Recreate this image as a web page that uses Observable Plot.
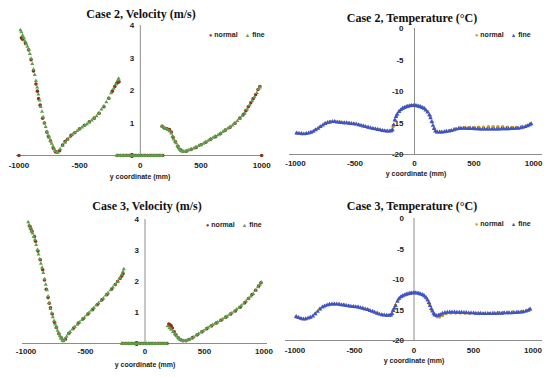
<!DOCTYPE html>
<html>
<head>
<meta charset="utf-8">
<script src="https://cdn.jsdelivr.net/npm/d3@7"></script>
<script src="https://cdn.jsdelivr.net/npm/@observablehq/plot@0.6"></script>
<style>
  html, body { margin: 0; padding: 0; background: #fff; }
  #root { position: relative; width: 550px; height: 377px; overflow: hidden; background: #fff; }
  .title { position: absolute; transform: translate(-50%, -50%); white-space: nowrap;
           font-family: "Liberation Serif", "Times New Roman", serif; font-weight: bold; font-size: 12px; color: #111; }
  .legend { position: absolute; white-space: nowrap; font-family: "Liberation Sans", Arial, sans-serif;
            font-weight: bold; font-size: 7px; color: #222; line-height: 8px; }
  .legend .sym { font-size: 5.5px; margin-right: 2px; }
  .legend .gap { display: inline-block; width: 7px; }
</style>
</head>
<body>
<div id="root"></div>
<script>
// ---------- data ----------
const xTicks = [-1000, -500, 0, 500, 1000];
const velTicks = [0, 1, 2, 3, 4];
const tempTicks = [0, -5, -10, -15, -20];
const titles = ["Case 2, Velocity (m/s)", "Case 2, Temperature (°C)", "Case 3, Velocity (m/s)", "Case 3, Temperature (°C)"];
const seriesNames = ["normal", "fine"];
const xLabel = "y coordinate (mm)";

const c2VelNormal = [
  [-1000,0],[-979,3.62],[-970,3.58],[-945,3.45],[-920,3.25],[-900,2.95],[-880,2.6],[-860,2.2],[-848,1.98],[-838,1.75],[-825,1.55],[-805,1.15],[-790,1.0],[-770,0.72],[-755,0.58],[-740,0.45],[-715,0.22],[-700,0.12],[-685,0.1],[-665,0.15],[-640,0.32],[-620,0.43],[-600,0.5],[-570,0.62],[-540,0.7],[-500,0.82],[-460,0.93],[-420,1.04],[-380,1.15],[-340,1.3],[-300,1.5],[-260,1.76],[-230,1.98],[-210,2.12],[-195,2.22],[-185,2.25],[-175,2.27],
  [-190,0],[-165,0],[-140,0],[-115,0],[-90,0],[-65,0],[-40,0],[-15,0],[10,0],[35,0],[60,0],[85,0],[110,0],[135,0],[160,0],[185,0],
  [180,0.9],[200,0.84],[220,0.82],[240,0.8],[255,0.72],[270,0.56],[290,0.42],[310,0.28],[330,0.18],[350,0.13],[380,0.13],[420,0.19],[460,0.25],[500,0.33],[540,0.41],[580,0.5],[620,0.58],[660,0.67],[700,0.78],[740,0.87],[780,0.99],[820,1.15],[850,1.27],[870,1.38],[890,1.5],[910,1.62],[930,1.75],[950,1.87],[970,2.03],[985,2.12],[1000,0]
];
const c2VelFine = [
  [-988,3.86],[-980,3.8],[-970,3.7],[-960,3.62],[-950,3.52],[-940,3.43],[-930,3.35],[-920,3.26],[-910,3.13],[-900,2.98],[-890,2.82],[-880,2.65],[-870,2.48],[-860,2.3],[-850,2.1],[-840,1.88],[-830,1.7],[-820,1.5],[-810,1.35],[-800,1.18],[-790,1.0],[-780,0.88],[-770,0.72],[-760,0.62],[-750,0.55],[-740,0.45],[-730,0.37],[-720,0.28],[-710,0.2],[-700,0.14],[-690,0.08],
  [-680,0.1],[-660,0.2],[-640,0.3],[-620,0.4],[-600,0.49],[-580,0.57],[-560,0.64],[-540,0.7],[-520,0.76],[-500,0.81],[-480,0.87],[-460,0.92],[-440,0.97],[-420,1.02],[-400,1.08],[-380,1.14],[-360,1.21],[-340,1.3],[-320,1.42],[-300,1.52],[-280,1.64],[-260,1.77],[-240,1.92],[-220,2.06],[-200,2.2],[-185,2.32],[-178,2.37],
  [-195,0],[-180,0],[-165,0],[-150,0],[-135,0],[-120,0],[-105,0],[-90,0],[-75,0],[-60,0],[-45,0],[-30,0],[-15,0],[0,0],[15,0],[30,0],[45,0],[60,0],[75,0],[90,0],[105,0],[120,0],[135,0],[150,0],[165,0],[180,0],
  [180,0.9],[195,0.86],[210,0.82],[225,0.79],[240,0.75],[255,0.68],[265,0.6],[275,0.5],[285,0.43],[295,0.38],[305,0.3],[315,0.23],[325,0.18],[335,0.15],[345,0.13],[355,0.12],[370,0.13],[385,0.15],[400,0.17],[420,0.19],[440,0.22],[460,0.26],[480,0.3],[500,0.33],[520,0.37],[540,0.42],[560,0.46],[580,0.51],[600,0.55],[620,0.59],[640,0.63],[660,0.68],[680,0.73],[700,0.78],[720,0.83],[740,0.88],[760,0.93],[780,1.0],[800,1.07],[820,1.14],[840,1.22],[860,1.3],[880,1.42],[900,1.55],[920,1.68],[940,1.8],[960,1.93],[975,2.05],[985,2.1]
];

const c3VelNormal = [
  [-968,3.78],[-960,3.7],[-950,3.62],[-930,3.45],[-920,3.3],[-900,2.98],[-880,2.7],[-860,2.38],[-845,2.05],[-830,1.75],[-815,1.48],[-805,1.3],[-795,1.15],[-780,0.95],[-760,0.68],[-745,0.52],[-725,0.32],[-705,0.18],[-690,0.1],[-670,0.14],[-640,0.33],[-600,0.5],[-560,0.66],[-520,0.8],[-480,0.95],[-440,1.1],[-400,1.26],[-360,1.42],[-320,1.58],[-280,1.76],[-250,1.9],[-230,2.0],[-210,2.1],[-195,2.18],[-185,2.25],
  [-190,0],[-165,0],[-140,0],[-115,0],[-90,0],[-65,0],[-40,0],[-15,0],[10,0],[35,0],[60,0],[85,0],[110,0],[135,0],[160,0],[185,0],
  [200,0.63],[210,0.6],[220,0.57],[230,0.5],[245,0.38],[260,0.28],[280,0.18],[300,0.12],[320,0.09],[345,0.09],[370,0.13],[400,0.19],[440,0.28],[480,0.38],[520,0.48],[560,0.57],[600,0.66],[640,0.75],[680,0.85],[720,0.95],[760,1.05],[800,1.17],[840,1.32],[870,1.45],[900,1.58],[930,1.72],[955,1.85],[975,1.96]
];
const c3VelFine = [
  [-982,3.92],[-975,3.82],[-965,3.72],[-955,3.62],[-945,3.55],[-935,3.45],[-925,3.35],[-915,3.18],[-905,3.02],[-895,2.88],[-885,2.72],[-875,2.58],[-865,2.45],[-855,2.28],[-845,2.08],[-835,1.9],[-825,1.72],[-815,1.52],[-805,1.3],[-795,1.12],[-785,0.98],[-775,0.85],[-765,0.73],[-755,0.62],[-745,0.52],[-735,0.42],[-725,0.33],[-715,0.25],[-705,0.17],[-695,0.1],[-685,0.08],
  [-675,0.12],[-660,0.22],[-645,0.3],[-630,0.38],[-610,0.46],[-590,0.54],[-570,0.61],[-550,0.68],[-530,0.76],[-510,0.84],[-490,0.92],[-470,1.0],[-450,1.07],[-430,1.15],[-410,1.23],[-390,1.3],[-370,1.38],[-350,1.46],[-330,1.55],[-310,1.63],[-290,1.72],[-270,1.81],[-250,1.9],[-230,2.0],[-210,2.1],[-195,2.22],[-185,2.32],[-178,2.4],
  [-195,0],[-180,0],[-165,0],[-150,0],[-135,0],[-120,0],[-105,0],[-90,0],[-75,0],[-60,0],[-45,0],[-30,0],[-15,0],[0,0],[15,0],[30,0],[45,0],[60,0],[75,0],[90,0],[105,0],[120,0],[135,0],[150,0],[165,0],[180,0],
  [190,0.56],[205,0.5],[220,0.45],[235,0.38],[250,0.3],[265,0.24],[280,0.18],[295,0.13],[310,0.1],[325,0.09],[340,0.09],[355,0.1],[370,0.12],[390,0.16],[410,0.21],[430,0.26],[450,0.31],[470,0.36],[490,0.41],[510,0.46],[530,0.51],[550,0.56],[570,0.6],[590,0.64],[610,0.68],[630,0.73],[650,0.78],[670,0.83],[690,0.88],[710,0.93],[730,0.98],[750,1.04],[770,1.1],[790,1.16],[810,1.22],[830,1.29],[850,1.37],[870,1.45],[890,1.52],[910,1.6],[930,1.7],[950,1.82],[965,1.9],[978,1.97]
];

const c2TempNormal = [
  [-990,-16.6],[-950,-16.7],[-910,-16.65],[-870,-16.45],[-830,-16.05],[-790,-15.55],[-750,-15.05],[-710,-14.8],[-670,-14.75],[-630,-14.85],[-590,-14.95],[-550,-15.0],[-510,-15.1],[-470,-15.25],[-430,-15.45],[-390,-15.65],[-350,-15.85],[-310,-16.0],[-270,-16.15],[-230,-16.25],[-195,-16.2],[-180,-15.6],[-165,-14.6],[-150,-13.8],[-125,-13.1],[-95,-12.65],[-60,-12.35],[-25,-12.2],[10,-12.2],[45,-12.35],[80,-12.65],[110,-13.2],[130,-13.9],[148,-14.9],[165,-15.9],[185,-16.4],[220,-16.45],[260,-16.35],[300,-16.2],[340,-15.95],[380,-15.8],[420,-15.75],[460,-15.7],[500,-15.7],[540,-15.65],[580,-15.65],[620,-15.6],[660,-15.6],[700,-15.6],[740,-15.6],[780,-15.65],[820,-15.7],[860,-15.7],[900,-15.6],[940,-15.45],[975,-15.15]
];
const c2TempFine = [
  [-990,-16.6],[-970,-16.65],[-950,-16.7],[-930,-16.75],[-910,-16.7],[-890,-16.6],[-870,-16.5],[-850,-16.35],[-830,-16.1],[-810,-15.85],[-790,-15.6],[-770,-15.35],[-750,-15.1],[-730,-14.95],[-710,-14.85],[-690,-14.8],[-670,-14.8],[-650,-14.85],[-630,-14.9],[-610,-14.95],[-590,-15.0],[-570,-15.0],[-550,-15.05],[-530,-15.1],[-510,-15.15],[-490,-15.2],[-470,-15.3],[-450,-15.4],[-430,-15.5],[-410,-15.6],[-390,-15.7],[-370,-15.8],[-350,-15.9],[-330,-15.95],[-310,-16.05],[-290,-16.1],[-270,-16.2],[-250,-16.25],[-230,-16.3],[-210,-16.3],[-195,-16.25],[-185,-16.1],[-175,-15.3],[-165,-14.5],[-155,-14.0],[-145,-13.6],[-130,-13.2],[-115,-12.9],[-100,-12.7],[-85,-12.55],[-70,-12.45],[-55,-12.35],[-40,-12.3],[-25,-12.25],[-10,-12.25],[5,-12.25],[20,-12.3],[35,-12.35],[50,-12.45],[65,-12.55],[80,-12.7],[95,-12.95],[110,-13.3],[125,-13.7],[135,-14.2],[145,-14.8],[155,-15.4],[165,-15.9],[175,-16.3],[190,-16.45],[210,-16.45],[230,-16.45],[250,-16.4],[270,-16.35],[290,-16.3],[310,-16.2],[330,-16.1],[350,-16.0],[370,-15.9],[390,-15.85],[410,-15.85],[430,-15.85],[450,-15.9],[470,-15.9],[490,-15.9],[510,-15.95],[530,-15.95],[550,-16.0],[570,-16.0],[590,-16.0],[610,-16.0],[630,-16.0],[650,-16.0],[670,-16.0],[690,-16.0],[710,-16.0],[730,-15.95],[750,-15.95],[770,-15.95],[790,-15.95],[810,-15.9],[830,-15.9],[850,-15.85],[870,-15.85],[890,-15.8],[910,-15.7],[930,-15.6],[950,-15.45],[965,-15.3],[980,-15.15]
];

const c3TempNormal = [
  [-990,-16.15],[-950,-16.4],[-910,-16.45],[-870,-16.2],[-830,-15.6],[-790,-14.8],[-750,-14.35],[-710,-14.1],[-670,-14.0],[-630,-14.05],[-590,-14.15],[-550,-14.3],[-510,-14.4],[-470,-14.5],[-430,-14.7],[-390,-14.9],[-350,-15.2],[-310,-15.5],[-270,-15.75],[-230,-15.85],[-195,-15.8],[-175,-15.0],[-155,-14.2],[-130,-13.3],[-100,-12.75],[-65,-12.4],[-30,-12.2],[5,-12.15],[40,-12.25],[75,-12.55],[105,-13.1],[130,-14.0],[150,-15.0],[170,-15.8],[195,-16.1],[215,-16.15],[240,-15.9],[270,-15.6],[310,-15.5],[350,-15.5],[390,-15.5],[430,-15.55],[470,-15.55],[510,-15.55],[550,-15.6],[590,-15.6],[630,-15.55],[670,-15.5],[710,-15.45],[750,-15.4],[790,-15.35],[830,-15.3],[870,-15.3],[910,-15.25],[950,-15.1],[975,-14.9]
];
const c3TempFine = [
  [-990,-16.1],[-970,-16.25],[-950,-16.4],[-930,-16.5],[-910,-16.45],[-890,-16.35],[-870,-16.2],[-850,-16.0],[-830,-15.65],[-810,-15.25],[-790,-14.85],[-770,-14.55],[-750,-14.35],[-730,-14.2],[-710,-14.1],[-690,-14.05],[-670,-14.05],[-650,-14.05],[-630,-14.1],[-610,-14.15],[-590,-14.2],[-570,-14.3],[-550,-14.35],[-530,-14.4],[-510,-14.45],[-490,-14.5],[-470,-14.55],[-450,-14.65],[-430,-14.75],[-410,-14.85],[-390,-14.95],[-370,-15.1],[-350,-15.25],[-330,-15.4],[-310,-15.55],[-290,-15.7],[-270,-15.8],[-250,-15.85],[-230,-15.9],[-210,-15.9],[-195,-15.85],[-185,-15.6],[-175,-15.1],[-165,-14.7],[-155,-14.3],[-140,-13.6],[-125,-13.1],[-110,-12.85],[-95,-12.7],[-80,-12.55],[-65,-12.45],[-50,-12.35],[-35,-12.3],[-20,-12.25],[-5,-12.2],[10,-12.2],[25,-12.25],[40,-12.3],[55,-12.4],[70,-12.5],[85,-12.7],[100,-12.95],[115,-13.4],[125,-13.8],[135,-14.3],[145,-14.8],[155,-15.2],[165,-15.55],[175,-15.8],[190,-15.95],[205,-15.9],[220,-15.75],[240,-15.55],[260,-15.45],[280,-15.4],[300,-15.35],[320,-15.35],[340,-15.35],[360,-15.4],[380,-15.4],[400,-15.4],[420,-15.45],[440,-15.45],[460,-15.5],[480,-15.5],[500,-15.5],[520,-15.55],[540,-15.55],[560,-15.55],[580,-15.6],[600,-15.6],[620,-15.6],[640,-15.6],[660,-15.6],[680,-15.6],[700,-15.55],[720,-15.55],[740,-15.55],[760,-15.5],[780,-15.5],[800,-15.5],[820,-15.5],[840,-15.45],[860,-15.45],[880,-15.4],[900,-15.35],[920,-15.3],[940,-15.2],[960,-15.05],[975,-14.85]
];

const velColors = ["#8a3416", "#5c9e4c"];
const tempColors = ["#c99a1c", "#3e54c6"];

// ---------- drawing ----------
const root = document.getElementById("root");

function addTitle(text, cx, cy) {
  const d = document.createElement("div");
  d.className = "title";
  d.style.left = cx + "px";
  d.style.top = cy + "px";
  d.textContent = text;
  root.appendChild(d);
}

function addLegend(left, top, colors) {
  const d = document.createElement("div");
  d.className = "legend";
  d.style.left = left + "px";
  d.style.top = top + "px";
  const s1 = document.createElement("span"); s1.className = "sym"; s1.style.color = colors[0]; s1.textContent = "●";
  const t1 = document.createTextNode(seriesNames[0]);
  const g = document.createElement("span"); g.className = "gap";
  const s2 = document.createElement("span"); s2.className = "sym"; s2.style.color = colors[1]; s2.textContent = "▲";
  const t2 = document.createTextNode(seriesNames[1]);
  d.append(s1, t1, g, s2, t2);
  root.appendChild(d);
}

function panel(o) {
  const svg = Plot.plot({
    width: o.width, height: o.height,
    marginTop: o.mt, marginRight: o.mr, marginBottom: o.mb, marginLeft: o.ml,
    x: {domain: o.xDomain},
    y: {domain: o.yDomain, axis: null},
    style: {fontFamily: "'Liberation Sans', Arial, sans-serif", fontSize: "8px", fontWeight: "bold", color: "#222", background: "transparent", overflow: "visible"},
    marks: [
      Plot.ruleY([o.baseY], {stroke: "#8c8c8c", strokeWidth: 1}),
      Plot.ruleX([0], {stroke: "#8c8c8c", strokeWidth: 1}),
      Plot.axisX({ticks: xTicks, tickSize: 0, tickPadding: o.tickPad, tickFormat: d => String(d)}),
      Plot.text([xLabel], {frameAnchor: "bottom", dy: o.labelDy, fontSize: 7}),
      Plot.text(o.yTicks, {x: 0, y: d => d, text: d => String(d), dx: o.yDx, textAnchor: "end"}),
      Plot.dot(o.normal, {x: d => d[0], y: d => d[1], r: o.rN, fill: o.colors[0], symbol: "circle"}),
      Plot.dot(o.fine, {x: d => d[0], y: d => d[1], r: o.rF, fill: o.colors[1], symbol: "triangle"})
    ]
  });
  svg.style.position = "absolute";
  svg.style.left = o.left + "px";
  svg.style.top = o.top + "px";
  root.appendChild(svg);
}

// Panel 1: Case 2 velocity
panel({left: 0, top: 20, width: 275, height: 170, mt: 5, mb: 35, ml: 16, mr: 12,
  xDomain: [-1020, 1015], yDomain: [0, 4], yTicks: velTicks, baseY: 0, yDx: -6, tickPad: 7, labelDy: 23,
  normal: c2VelNormal, fine: c2VelFine, colors: velColors, rN: 1.8, rF: 1.5});
// Panel 2: Case 2 temperature
panel({left: 275, top: 20, width: 275, height: 170, mt: 8, mb: 36, ml: 14, mr: 8,
  xDomain: [-1050, 1075], yDomain: [-20, 0], yTicks: tempTicks, baseY: -20, yDx: -11, tickPad: 6, labelDy: 21,
  normal: c2TempNormal, fine: c2TempFine, colors: tempColors, rN: 1.7, rF: 1.7});
// Panel 3: Case 3 velocity
panel({left: 0, top: 208, width: 275, height: 169, mt: 11, mb: 34, ml: 22, mr: 8,
  xDomain: [-1030, 1030], yDomain: [0, 4], yTicks: velTicks, baseY: 0, yDx: -6, tickPad: 5, labelDy: 23,
  normal: c3VelNormal, fine: c3VelFine, colors: velColors, rN: 1.8, rF: 1.5});
// Panel 4: Case 3 temperature
panel({left: 275, top: 208, width: 275, height: 169, mt: 10, mb: 37, ml: 10, mr: 8,
  xDomain: [-1080, 1080], yDomain: [-20, 0], yTicks: tempTicks, baseY: -20, yDx: -10, tickPad: 7, labelDy: 22,
  normal: c3TempNormal, fine: c3TempFine, colors: tempColors, rN: 1.7, rF: 1.7});

addTitle(titles[0], 141, 14);
addTitle(titles[1], 412, 18);
addTitle(titles[2], 147, 206);
addTitle(titles[3], 412, 206);

addLegend(209, 31, velColors);
addLegend(475, 31, tempColors);
addLegend(206, 221, velColors);
addLegend(475, 220, tempColors);
</script>
</body>
</html>
